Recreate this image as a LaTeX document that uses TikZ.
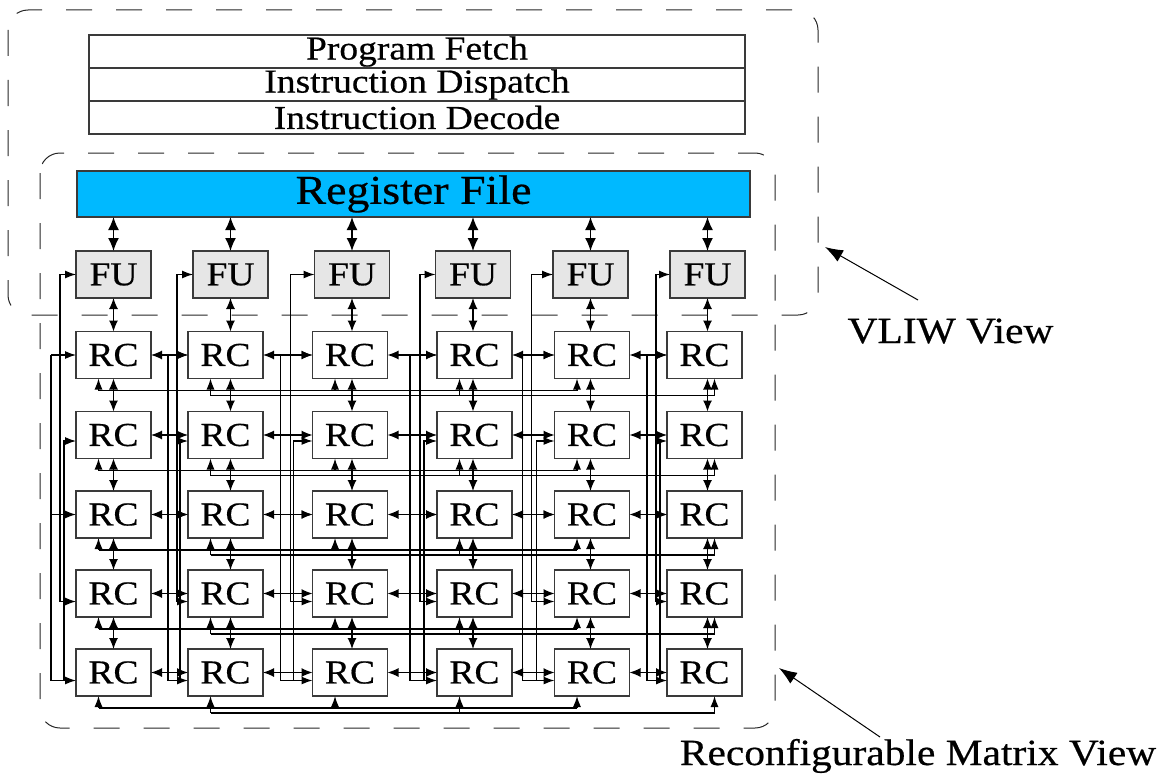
\documentclass[tikz,border=0pt]{standalone}
\usepackage{fontspec}
\setmainfont{Liberation Serif}[FakeStretch=1.12,FakeBold=0.5]
\usetikzlibrary{arrows.meta,positioning,calc}
\definecolor{regblue}{HTML}{00B9FF}
\definecolor{fugray}{HTML}{E6E6E6}
\definecolor{edge}{HTML}{3A3A3A}

\begin{document}
\begin{tikzpicture}[x=1pt,y=-1pt,>=Latex, font=\fontsize{33.5}{36}\selectfont]
\tikzset{cell/.style={draw=edge, line width=1.3pt, minimum width=75pt, minimum height=47pt, inner sep=0pt, outer sep=0pt}, fu/.style={cell, fill=fugray}, rc/.style={cell}, stage/.style={draw=edge, line width=1.2pt, minimum width=656pt, minimum height=33pt, inner sep=0pt, outer sep=0pt}, dbl/.style={{Latex[length=11pt,width=9pt]}-{Latex[length=11pt,width=9pt]}, line width=1.2pt}, big/.style={{Latex[length=13pt,width=11pt]}-{Latex[length=13pt,width=11pt]}, line width=1.5pt}, feed/.style={-{Latex[length=11pt,width=8pt]}, line width=1.2pt}, wire/.style={line width=1.2pt}, frame/.style={draw=black!85, dash pattern=on 26pt off 24pt, line width=1pt, rounded corners=20pt}, ptr/.style={-{Latex[length=18pt,width=13pt]}, line width=1pt}, lbl/.style={font=\fontsize{37}{40}\selectfont, anchor=base}}
\useasboundingbox (0,0) rectangle (1165,776);
% dashed views
\draw[frame] (8,10) rectangle (818,315);
\draw[frame] (40,153) rectangle (775,728);
% front end
\node[stage] (fetch) at (417,51.5) {Program Fetch};
\node[stage, below=0pt of fetch] (dispatch) {Instruction Dispatch};
\node[stage, below=0pt of dispatch] (decode) {Instruction Decode};
\node[cell, fill=regblue, minimum width=673pt, minimum height=46pt, font=\fontsize{41}{44}\selectfont] (rf) at (413.5,194) {Register File};
% FUs and RC array
\foreach \c/\fx/\rx in {1/113.5/113.5,2/230.5/225.5,3/352/350,4/473/474.5,5/590.5/592,6/707.5/704.5}{
  \node[fu] (fu\c) at (\fx,274.5) {FU};
  \foreach \r/\ry in {1/355,2/435,3/514.5,4/593.5,5/672.5}
    \node[rc] (rc-\r-\c) at (\rx,\ry) {RC};
}
% vertical links
\foreach \c in {1,...,6}{
  \draw[big] (fu\c.north) -- (fu\c.north |- rf.south);
  \draw[dbl] (fu\c.south) -- (fu\c.south |- rc-1-\c.north);
  \foreach \r [count=\n from 2] in {1,...,4}
    \draw[dbl] (fu\c.center |- rc-\r-\c.south) -- (fu\c.center |- rc-\n-\c.north);
}
% horizontal links
\foreach \r in {1,...,5}
  \foreach \c [count=\n from 2] in {1,...,5}
    \draw[dbl] (rc-\r-\c.east) -- (rc-\r-\n.west);
% column feed lines
\foreach \c/\oa/\ob/\oc in {1/25/16/12,2/20/11/8,3/32/22/19,4/27/17/13,5/32/23/18,6/20/11/7}{
  \draw[wire] ($(rc-1-\c.west)+(-\oa,0)$) -- ($(rc-5-\c.west)+(-\oa,8)$);
  \foreach \r/\dy in {1/0,3/0,5/8}
    \draw[feed] ($(rc-\r-\c.west)+(-\oa,\dy)$) -- ($(rc-\r-\c.west)+(0,\dy)$);
  \draw[feed] ($(rc-4-\c.west)+(-\ob,8)$) |- (fu\c.west);
  \draw[feed] ($(rc-4-\c.west)+(-\ob,8)$) -- ($(rc-4-\c.west)+(0,8)$);
  \draw[feed] ($(rc-5-\c.west)+(-\oc,8)$) |- ($(rc-2-\c.west)+(0,6)$);
}
% row buses
\foreach \r in {1,...,5}{
  \draw[wire] ($(rc-\r-1.south)+(-15,12)$) -- ($(rc-\r-5.south)+(-15,12)$);
  \draw[wire] ($(rc-\r-2.south)+(-15,17)$) -- ($(rc-\r-6.south)+(10,17)$);
  \foreach \c in {1,3,5}
    \draw[feed] ($(rc-\r-\c.south)+(-15,12)$) -- ($(rc-\r-\c.south)+(-15,0)$);
  \foreach \c in {2,4}
    \draw[feed] ($(rc-\r-\c.south)+(-15,17)$) -- ($(rc-\r-\c.south)+(-15,0)$);
  \draw[feed] ($(rc-\r-6.south)+(10,17)$) -- ($(rc-\r-6.south)+(10,0)$);
}
% view labels
\node[lbl] (vliw) at (950.5,343) {VLIW View};
\node[lbl] (rmv) at (918,765) {Reconfigurable Matrix View};
\coordinate (vtip) at (825,247);
\coordinate (vtail) at (918,300);
\coordinate (rtip) at (779,668);
\coordinate (rtail) at (880,737);
\draw[ptr] (vtail) -- (vtip);
\draw[ptr] (rtail) -- (rtip);
\end{tikzpicture}
\end{document}
